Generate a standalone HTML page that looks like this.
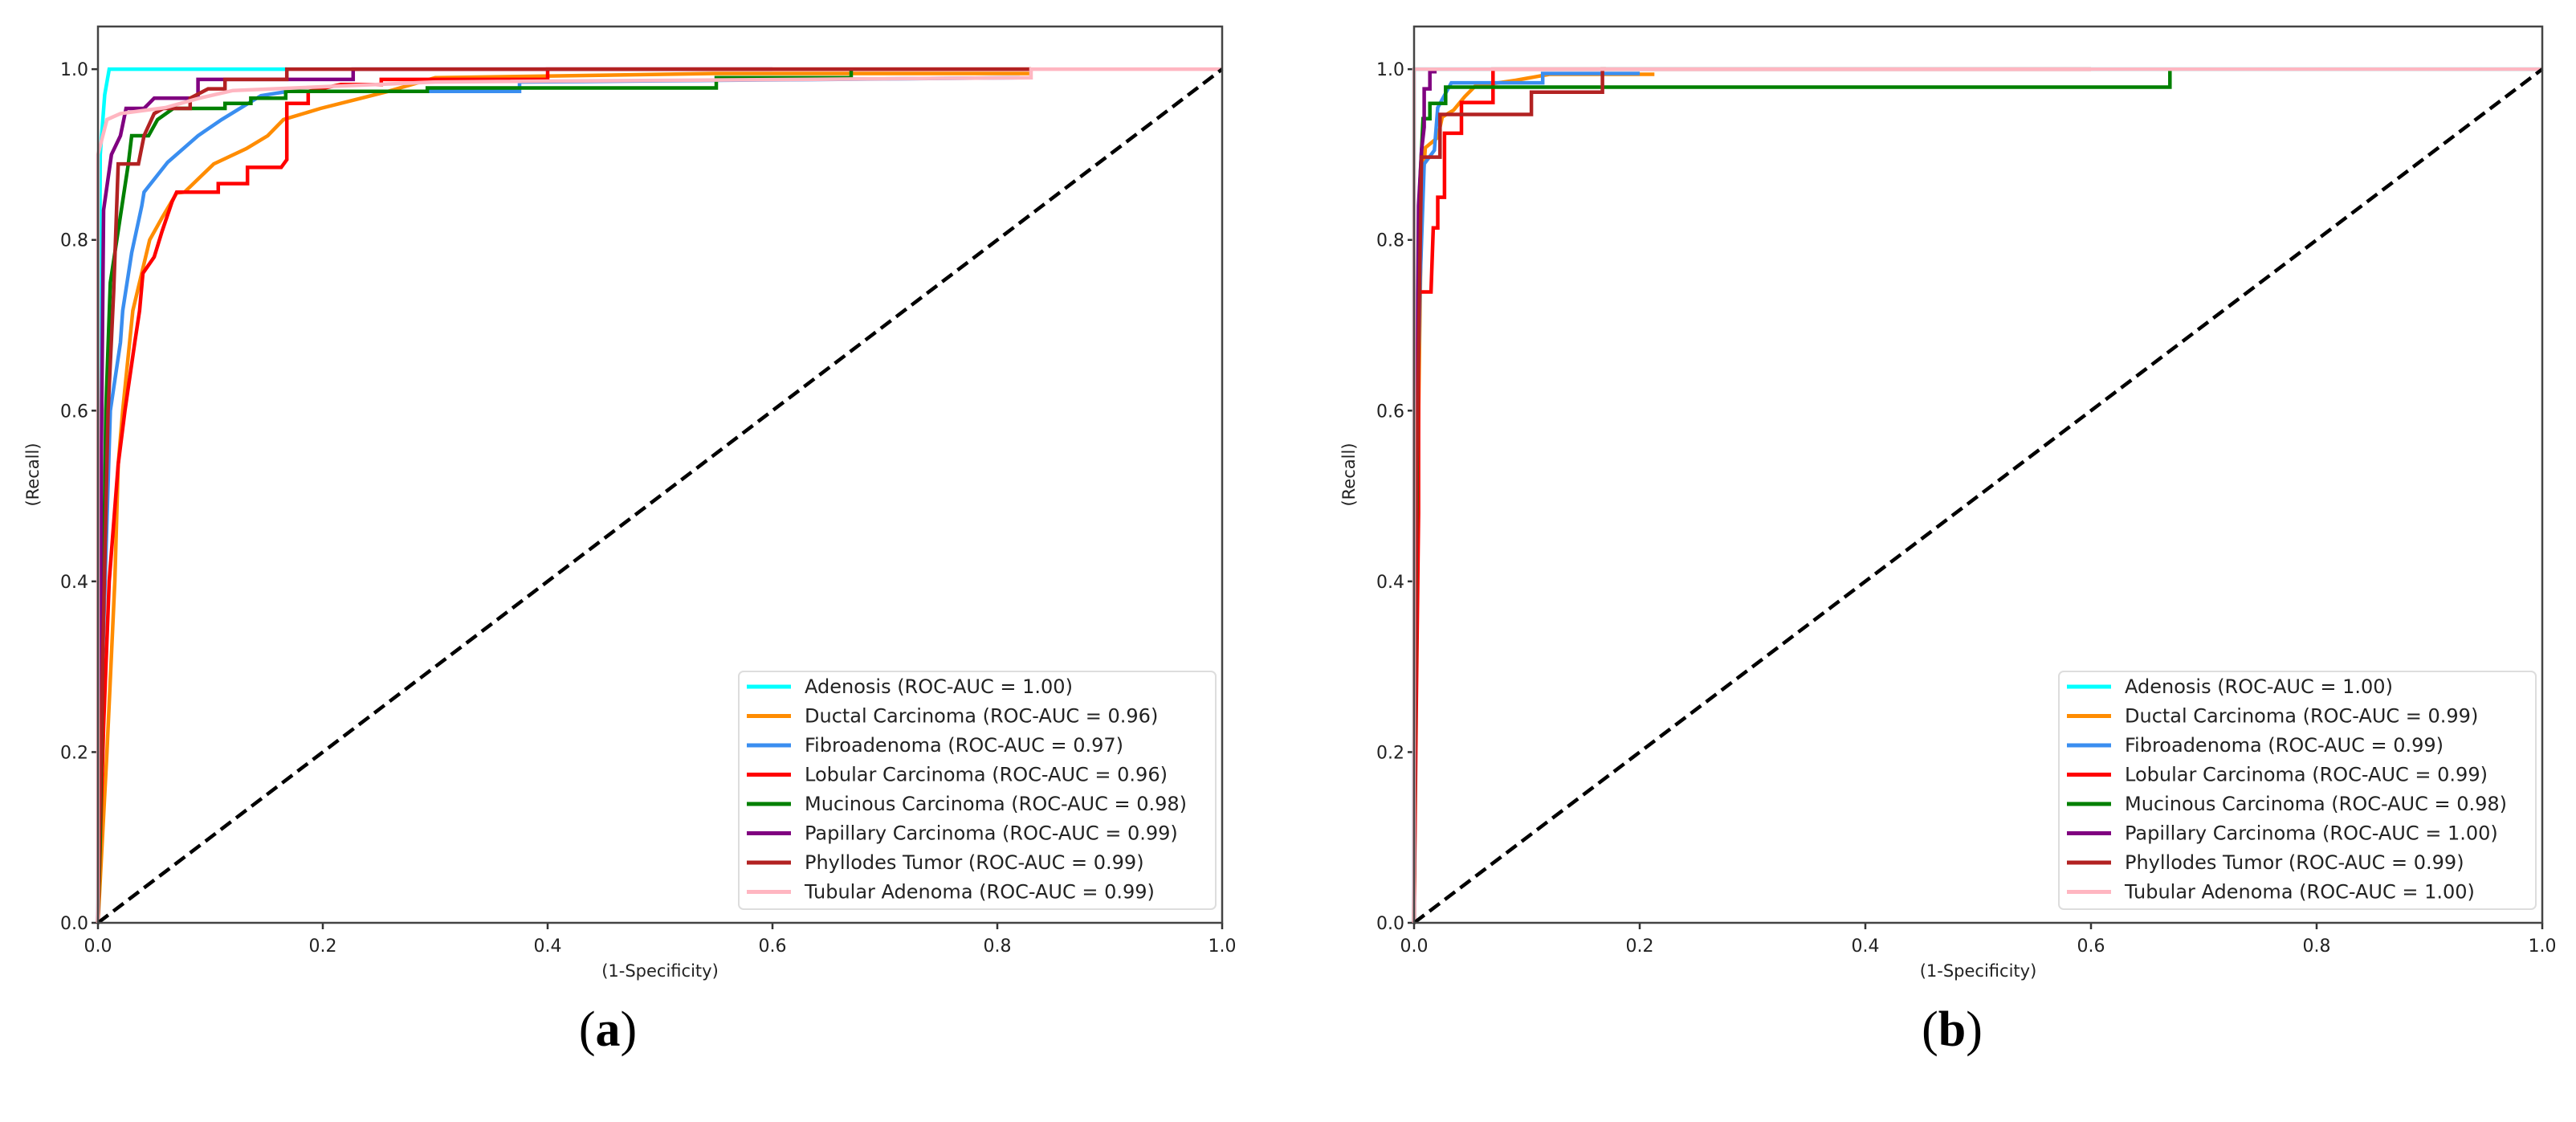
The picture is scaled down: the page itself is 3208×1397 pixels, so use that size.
<!DOCTYPE html>
<html><head><meta charset="utf-8"><style>
html,body{margin:0;padding:0;background:#fff;}
svg{display:block;font-family:"DejaVu Sans","Liberation Sans",sans-serif;}
</style></head><body>
<svg id="fig" width="3208" height="1397" viewBox="0 0 3208 1397" xmlns="http://www.w3.org/2000/svg"></svg>
<script>
const classNames = ["Adenosis","Ductal Carcinoma","Fibroadenoma","Lobular Carcinoma","Mucinous Carcinoma","Papillary Carcinoma","Phyllodes Tumor","Tubular Adenoma"];
const classColors = ["#00ffff","#ff8c00","#3a8ef0","#ff0000","#008000","#800080","#b22222","#ffb6c1"];
const aucA = ["1.00","0.96","0.97","0.96","0.98","0.99","0.99","0.99"];
const aucB = ["1.00","0.99","0.99","0.99","0.98","1.00","0.99","1.00"];
const xTicks = [0,0.2,0.4,0.6,0.8,1.0];
const yTicks = [0,0.2,0.4,0.6,0.8,1.0];
const xTickLabels = ["0.0","0.2","0.4","0.6","0.8","1.0"];
const yTickLabels = ["0.0","0.2","0.4","0.6","0.8","1.0"];

// Chart (a) ROC points
const aFpr0 = [0,0.001,0.002,0.006,0.01,0.168];
const aTpr0 = [0,0.6,0.9,0.97,1.0,1.0];
const aFpr1 = [0,0.008,0.015,0.018,0.022,0.031,0.046,0.057,0.07,0.077,0.103,0.132,0.151,0.165,0.198,0.234,0.258,0.3,0.55,0.83];
const aTpr1 = [0,0.2,0.4,0.537,0.6,0.717,0.8,0.826,0.855,0.856,0.889,0.907,0.922,0.941,0.954,0.966,0.974,0.99,0.995,0.995];
const aFpr2 = [0,0.004,0.011,0.02,0.022,0.03,0.039,0.041,0.062,0.089,0.11,0.13,0.145,0.169,0.375,0.375,0.82];
const aTpr2 = [0,0.3,0.6,0.68,0.717,0.785,0.84,0.856,0.891,0.922,0.941,0.957,0.969,0.974,0.974,0.985,0.99];
const aFpr3 = [0,0.005,0.01,0.018,0.024,0.033,0.037,0.04,0.05,0.057,0.066,0.07,0.107,0.107,0.133,0.133,0.163,0.168,0.168,0.187,0.187,0.216,0.252,0.252,0.40,0.40,0.83];
const aTpr3 = [0,0.23,0.4,0.537,0.6,0.682,0.717,0.761,0.78,0.81,0.845,0.856,0.856,0.866,0.866,0.885,0.885,0.894,0.96,0.96,0.974,0.982,0.982,0.988,0.988,1.0,1.0];
const aFpr4 = [0,0.002,0.007,0.011,0.027,0.03,0.045,0.053,0.067,0.113,0.113,0.136,0.136,0.167,0.167,0.293,0.293,0.55,0.55,0.67,0.67];
const aTpr4 = [0,0.1,0.6,0.75,0.889,0.922,0.922,0.941,0.954,0.954,0.96,0.96,0.966,0.966,0.974,0.974,0.978,0.978,0.99,0.99,1.0];
const aFpr5 = [0,0.002,0.003,0.005,0.012,0.02,0.025,0.041,0.05,0.089,0.089,0.213,0.227,0.227,0.6];
const aTpr5 = [0,0.3,0.55,0.835,0.90,0.922,0.954,0.954,0.966,0.966,0.988,0.988,0.988,1.0,1.0];
const aFpr6 = [0,0.004,0.009,0.014,0.018,0.036,0.041,0.05,0.058,0.082,0.082,0.098,0.113,0.113,0.168,0.168,0.83];
const aTpr6 = [0,0.3,0.6,0.74,0.889,0.889,0.922,0.948,0.954,0.954,0.966,0.977,0.977,0.988,0.988,1.0,1.0];
const aFpr7 = [0,0,0.008,0.02,0.06,0.09,0.12,0.3,0.83,0.83,1];
const aTpr7 = [0,0.9,0.941,0.948,0.955,0.966,0.975,0.985,0.99,1.0,1];

// Chart (b) ROC points
const bFpr0 = [0,0,1];
const bTpr0 = [0,1,1];
const bFpr1 = [0,0.003,0.0066,0.01,0.021,0.025,0.035,0.045,0.054,0.09,0.12,0.213];
const bTpr1 = [0,0.5,0.845,0.908,0.92,0.944,0.952,0.968,0.98,0.987,0.994,0.994];
const bFpr2 = [0,0,0.003,0.0055,0.009,0.018,0.021,0.033,0.114,0.114,0.2];
const bTpr2 = [0,0.2,0.6,0.755,0.889,0.905,0.955,0.984,0.984,0.995,0.995];
const bFpr3 = [0,0.002,0.004,0.004,0.015,0.017,0.021,0.021,0.027,0.027,0.042,0.042,0.07,0.07,0.17];
const bTpr3 = [0,0.26,0.48,0.739,0.739,0.814,0.814,0.85,0.85,0.925,0.925,0.961,0.961,1.0,1.0];
const bFpr4 = [0,0.002,0.004,0.0043,0.008,0.014,0.014,0.028,0.028,0.67,0.67];
const bTpr4 = [0,0.44,0.72,0.84,0.942,0.942,0.96,0.96,0.979,0.979,1.0];
const bFpr5 = [0,0.002,0.004,0.0066,0.009,0.009,0.014,0.014,0.02];
const bTpr5 = [0,0.5,0.84,0.905,0.932,0.977,0.977,0.997,0.997];
const bFpr6 = [0,0.002,0.0066,0.023,0.023,0.104,0.104,0.167,0.167,0.6];
const bTpr6 = [0,0.5,0.897,0.897,0.947,0.947,0.973,0.973,1.0,1.0];
const bFpr7 = [0,0,1];
const bTpr7 = [0,1,1];

const NS = "http://www.w3.org/2000/svg";
const svg = document.getElementById("fig");
function mk(tag, attrs, parent){
  const e = document.createElementNS(NS, tag);
  for (const k in attrs) e.setAttribute(k, attrs[k]);
  (parent||svg).appendChild(e);
  return e;
}

function drawChart(cfg){
  const g = mk("g", {});
  
  
  const L = cfg.left, R = cfg.right, T = 33, B = 1149;
  const sx = v => L + v * (R - L);
  const sy = v => B - v * (B - T) / 1.05;
  xTicks.forEach((t,i)=>{
    const tk = mk("line",{x1:sx(t),x2:sx(t),y1:B,y2:B+8,stroke:"#333","stroke-width":2.5},g);
    
    
    const lb = mk("text",{x:sx(t),y:B+36,"text-anchor":"middle","font-size":22,fill:"#222"},g);
    lb.textContent = xTickLabels[i];
    
    
  });
  yTicks.forEach((t,i)=>{
    const tk = mk("line",{x1:L-8,x2:L,y1:sy(t),y2:sy(t),stroke:"#333","stroke-width":2.5},g);
    
    
    const lb = mk("text",{x:L-12,y:sy(t)+8,"text-anchor":"end","font-size":22,fill:"#222"},g);
    lb.textContent = yTickLabels[i];
    
    
  });
  cfg.fprs.forEach((fx,k)=>{
    const ty = cfg.tprs[k];
    const pts = fx.map((x,i)=> sx(x).toFixed(1)+","+sy(ty[i]).toFixed(1)).join(" ");
    const pl = mk("polyline",{points:pts,fill:"none",stroke:classColors[k],"stroke-width":4.5,"stroke-linejoin":"miter"},g);
    
    
  });
  const dg = mk("line",{x1:sx(0),y1:sy(0),x2:sx(1),y2:sy(1),stroke:"#000","stroke-width":4.5,"stroke-dasharray":"16 8"},g);
  
  
  const fr = mk("rect",{x:L,y:T,width:R-L,height:B-T,fill:"none",stroke:"#444","stroke-width":2.5},g);
  
  
  const xl = mk("text",{x:(L+R)/2,y:1216,"text-anchor":"middle","font-size":21,fill:"#222"},g);
  xl.textContent = "(1-Specificity)";
  
  
  const yx = L - 74, yy = (T+B)/2;
  const yl = mk("text",{x:yx,y:yy,"text-anchor":"middle","font-size":21,fill:"#222",transform:`rotate(-90 ${yx} ${yy})`},g);
  yl.textContent = "(Recall)";
  
  
  const lg = mk("g",{},g);
  
  
  mk("rect",{x:cfg.legX,y:836,width:cfg.legW,height:296,rx:6,fill:"#fff",stroke:"#ddd","stroke-width":2},lg);
  classNames.forEach((n,k)=>{
    const cy = 855 + k*36.5;
    const en = mk("g",{},lg);
    
    
    mk("line",{x1:cfg.legX+10,x2:cfg.legX+65,y1:cy,y2:cy,stroke:classColors[k],"stroke-width":5},en);
    const t = mk("text",{x:cfg.legX+82,y:cy+8,"font-size":24,fill:"#222"},en);
    t.textContent = n + " (ROC-AUC = " + cfg.aucs[k] + ")";
  });
  const pl = mk("text",{x:cfg.letterX,y:1302,"text-anchor":"middle","font-size":62,"font-family":"Liberation Serif, serif",fill:"#000"},g);
  pl.innerHTML = '(<tspan font-weight="bold">' + cfg.letter + '</tspan>)';
  
  
}

drawChart({name:"roc-chart-a",left:122,right:1522,legX:920,legW:594,aucs:aucA,letter:"a",letterX:757,
  fprs:[aFpr0,aFpr1,aFpr2,aFpr3,aFpr4,aFpr5,aFpr6,aFpr7],tprs:[aTpr0,aTpr1,aTpr2,aTpr3,aTpr4,aTpr5,aTpr6,aTpr7]});
drawChart({name:"roc-chart-b",left:1761,right:3166,legX:2564,legW:594,aucs:aucB,letter:"b",letterX:2431,
  fprs:[bFpr0,bFpr1,bFpr2,bFpr3,bFpr4,bFpr5,bFpr6,bFpr7],tprs:[bTpr0,bTpr1,bTpr2,bTpr3,bTpr4,bTpr5,bTpr6,bTpr7]});
</script>
</body></html>
